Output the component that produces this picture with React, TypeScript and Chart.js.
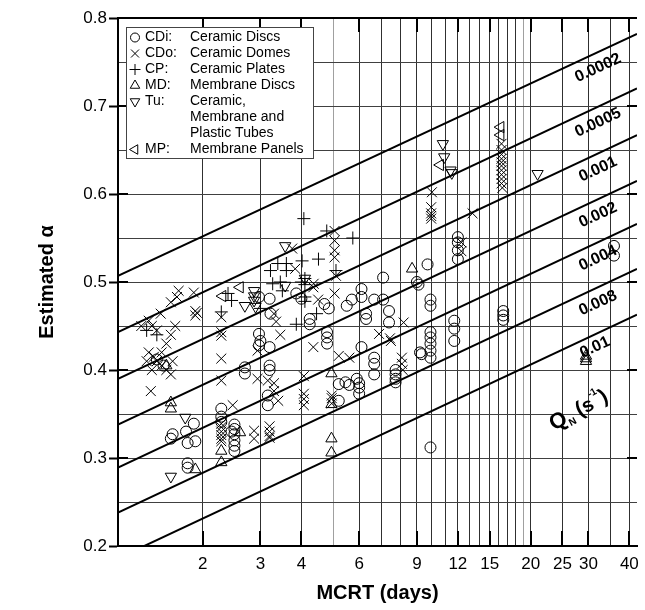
import React, { useEffect, useRef } from 'react';
import { Chart, registerables } from 'chart.js';

Chart.register(...registerables);

const FONT = "'Liberation Sans', Arial, Helvetica, sans-serif";

const X_MIN = 1.104;
const X_MAX = 42.2;
const Y_MIN = 0.2;
const Y_MAX = 0.8;

const X_GRID_VALUES = [2, 3, 4, 5, 6, 7, 8, 9, 10, 11, 12, 13, 14, 15, 16, 17, 18, 19, 20, 25, 30, 35, 40];
const X_LIGHT_GRID = [5, 19];
const X_TICK_LABELS = [2, 3, 4, 6, 9, 12, 15, 20, 25, 30, 40];
const Y_GRID_VALUES = [0.2, 0.25, 0.3, 0.35, 0.4, 0.45, 0.5, 0.55, 0.6, 0.65, 0.7, 0.75, 0.8];
const Y_TICK_LABELS = [0.2, 0.3, 0.4, 0.5, 0.6, 0.7, 0.8];

const QN_LABELS = ['0.0002', '0.0005', '0.001', '0.002', '0.004', '0.008', '0.01'];
const QN_ALPHA_AT_XMIN = [0.507, 0.443, 0.39, 0.338, 0.289, 0.238, 0.186];
const QN_ALPHA_AT_XMAX = [0.782, 0.72, 0.667, 0.615, 0.566, 0.515, 0.463];

// Ceramic Discs (circles)
const CDI: [number, number][] = [
  [1.45, 0.412], [1.52, 0.405], [1.6, 0.322], [1.62, 0.327], [1.8, 0.317], [1.9, 0.319], [1.88, 0.339], [1.78, 0.33], [1.8, 0.289], [1.8, 0.294],
  [2.28, 0.356], [2.28, 0.347], [2.28, 0.341],
  [2.5, 0.338], [2.5, 0.333], [2.5, 0.327], [2.5, 0.32], [2.5, 0.314], [2.5, 0.308], [2.45, 0.33],
  [2.69, 0.403], [2.69, 0.396],
  [2.97, 0.428], [2.97, 0.483], [2.97, 0.441], [3.0, 0.433],
  [3.2, 0.426], [3.2, 0.405], [3.16, 0.371], [3.16, 0.36], [3.2, 0.481], [3.22, 0.464], [3.2, 0.4],
  [3.86, 0.487], [4.0, 0.481],
  [4.24, 0.452], [4.24, 0.458],
  [4.7, 0.475], [4.85, 0.47], [4.79, 0.443], [4.79, 0.437], [4.79, 0.43],
  [5.2, 0.384], [5.2, 0.365], [5.6, 0.383], [5.5, 0.473], [5.7, 0.48], [5.45, 0.386],
  [6.1, 0.492], [6.1, 0.483], [6.3, 0.464], [6.3, 0.458], [6.1, 0.426], [5.9, 0.39], [6.0, 0.385], [6.0, 0.373], [6.0, 0.38],
  [6.67, 0.48], [6.67, 0.414], [6.67, 0.407], [6.67, 0.395],
  [7.1, 0.505], [7.1, 0.48], [7.4, 0.467], [7.4, 0.454],
  [7.75, 0.4], [7.75, 0.395], [7.75, 0.39], [7.75, 0.386],
  [9.0, 0.5], [9.1, 0.497], [9.7, 0.52], [9.2, 0.42], [9.3, 0.418],
  [9.9, 0.48], [9.9, 0.473], [9.9, 0.443], [9.9, 0.437], [9.9, 0.43], [9.9, 0.422], [9.9, 0.414], [9.9, 0.312],
  [12.0, 0.551], [12.0, 0.545], [12.0, 0.536], [12.0, 0.526], [11.7, 0.456], [11.7, 0.447], [11.7, 0.433],
  [16.5, 0.467], [16.5, 0.462], [16.5, 0.457],
  [35.9, 0.541], [35.9, 0.53],
];

// Ceramic Domes (x)
const CDO: [number, number][] = [
  [1.37, 0.456], [1.49, 0.464], [1.6, 0.477], [1.69, 0.49], [1.67, 0.483], [1.88, 0.488], [1.9, 0.467], [1.9, 0.462], [1.92, 0.465],
  [1.37, 0.42], [1.42, 0.415], [1.45, 0.41], [1.5, 0.405], [1.55, 0.4], [1.6, 0.395], [1.4, 0.4], [1.35, 0.41], [1.5, 0.42], [1.62, 0.41],
  [1.55, 0.43], [1.45, 0.445], [1.4, 0.45], [1.65, 0.45], [1.6, 0.44], [1.39, 0.376], [1.3, 0.45],
  [2.28, 0.413], [2.28, 0.388], [2.28, 0.46], [2.28, 0.443], [2.28, 0.439], [2.28, 0.339], [2.28, 0.335], [2.28, 0.33], [2.28, 0.326],
  [2.28, 0.322], [2.28, 0.319], [2.47, 0.36],
  [2.87, 0.331], [2.87, 0.322], [2.94, 0.422], [2.94, 0.39],
  [3.2, 0.336], [3.2, 0.33], [3.2, 0.325], [3.2, 0.323], [3.16, 0.388], [3.3, 0.385], [3.3, 0.376], [3.4, 0.365], [3.3, 0.464], [3.35, 0.455], [3.45, 0.44],
  [3.75, 0.538], [3.83, 0.515],
  [4.07, 0.393], [4.07, 0.373], [4.07, 0.367], [4.07, 0.36], [4.35, 0.426], [4.36, 0.498], [4.35, 0.494], [4.5, 0.48],
  [5.05, 0.558], [5.05, 0.547], [5.05, 0.536], [5.05, 0.528], [5.1, 0.507], [5.05, 0.487], [4.95, 0.371], [4.95, 0.362], [4.95, 0.368], [5.2, 0.416], [5.6, 0.414],
  [6.9, 0.441], [7.5, 0.433], [7.45, 0.436], [8.2, 0.454], [8.1, 0.414], [8.1, 0.407], [8.15, 0.4],
  [10.0, 0.602], [9.95, 0.585], [9.95, 0.578], [9.95, 0.575], [9.95, 0.572], [12.3, 0.545], [12.3, 0.535], [13.3, 0.578],
  [16.3, 0.657], [16.3, 0.65], [16.3, 0.645], [16.3, 0.64], [16.3, 0.636], [16.3, 0.632], [16.3, 0.627], [16.3, 0.622], [16.3, 0.617], [16.3, 0.612], [16.4, 0.607],
];

// Ceramic Plates (+)
const CP: [number, number][] = [
  [4.07, 0.572], [4.78, 0.558], [5.74, 0.55], [4.02, 0.524], [4.51, 0.526], [3.39, 0.521], [3.6, 0.521], [3.6, 0.513], [3.22, 0.513],
  [4.1, 0.504], [4.0, 0.5], [4.1, 0.497], [3.27, 0.498], [3.45, 0.5], [2.39, 0.487], [2.45, 0.479], [2.28, 0.466], [3.86, 0.452],
  [4.1, 0.483], [4.1, 0.478], [4.45, 0.464], [5.1, 0.513], [1.45, 0.44], [1.35, 0.445], [3.5, 0.49], [3.0, 0.47],
];

// Membrane Discs (triangle up)
const MD: [number, number][] = [
  [1.6, 0.363], [1.6, 0.356], [1.9, 0.287], [1.55, 0.405], [2.28, 0.308], [2.28, 0.295], [2.6, 0.329],
  [4.94, 0.396], [4.94, 0.361], [4.94, 0.322], [4.94, 0.306], [8.7, 0.515], [29.5, 0.41], [29.5, 0.413], [29.5, 0.416],
];

// Tubes (triangle down)
const TU: [number, number][] = [
  [1.77, 0.346], [1.6, 0.279], [2.69, 0.473], [2.87, 0.49], [2.87, 0.484], [2.87, 0.479], [2.9, 0.472], [3.57, 0.541], [3.57, 0.496],
  [4.1, 0.504], [10.8, 0.657], [10.9, 0.642], [11.4, 0.627], [11.5, 0.624], [21.0, 0.623],
];

// Membrane Panels (triangle left)
const MP: [number, number][] = [
  [2.6, 0.494], [2.3, 0.484], [10.6, 0.633], [16.2, 0.676], [16.2, 0.667],
];

const LEGEND_ROWS = [
  { sym: 'circle', abbr: 'CDi:', desc: ['Ceramic Discs'] },
  { sym: 'x', abbr: 'CDo:', desc: ['Ceramic Domes'] },
  { sym: 'plus', abbr: 'CP:', desc: ['Ceramic Plates'] },
  { sym: 'up', abbr: 'MD:', desc: ['Membrane Discs'] },
  { sym: 'down', abbr: 'Tu:', desc: ['Ceramic,', 'Membrane and', 'Plastic Tubes'] },
  { sym: 'left', abbr: 'MP:', desc: ['Membrane Panels'] },
];

const isMajorY = (v: number) => Math.abs(v * 10 - Math.round(v * 10)) < 1e-6;

function drawSymbol(ctx: CanvasRenderingContext2D, sym: string, cx: number, cy: number) {
  ctx.beginPath();
  if (sym === 'circle') {
    ctx.arc(cx, cy, 4.5, 0, Math.PI * 2);
  } else if (sym === 'x') {
    ctx.moveTo(cx - 4, cy - 4); ctx.lineTo(cx + 4, cy + 4);
    ctx.moveTo(cx + 4, cy - 4); ctx.lineTo(cx - 4, cy + 4);
  } else if (sym === 'plus') {
    ctx.moveTo(cx - 5.5, cy); ctx.lineTo(cx + 5.5, cy);
    ctx.moveTo(cx, cy - 5.5); ctx.lineTo(cx, cy + 5.5);
  } else {
    const rot = sym === 'up' ? 0 : sym === 'down' ? Math.PI : -Math.PI / 2;
    const r = 5.5;
    for (let k = 0; k < 3; k++) {
      const a = rot + (k * 2 * Math.PI) / 3;
      const px = cx + Math.sin(a) * r;
      const py = cy - Math.cos(a) * r;
      if (k === 0) ctx.moveTo(px, py); else ctx.lineTo(px, py);
    }
    ctx.closePath();
  }
  ctx.stroke();
}

const decorPlugin = {
  id: 'decor',
  afterDatasetsDraw(chart: any) {
    const { ctx, chartArea: a, scales } = chart;
    const xs = scales.x;
    const ys = scales.y;
    ctx.save();
    ctx.strokeStyle = '#000';
    ctx.lineWidth = 2;
    ctx.beginPath();
    ctx.moveTo(a.left - 1, a.top);
    ctx.lineTo(a.right, a.top);
    ctx.stroke();

    // inward tick marks
    ctx.beginPath();
    for (const v of X_TICK_LABELS) {
      const px = Math.round(xs.getPixelForValue(v));
      ctx.moveTo(px, a.bottom); ctx.lineTo(px, a.bottom - 15);
      ctx.moveTo(px, a.top); ctx.lineTo(px, a.top + 14);
    }
    for (const v of Y_TICK_LABELS) {
      const py = Math.round(ys.getPixelForValue(v));
      ctx.moveTo(a.left, py); ctx.lineTo(a.left + 10, py);
      ctx.moveTo(a.right - 10, py); ctx.lineTo(a.right, py);
    }
    ctx.stroke();

    // Q_N line labels
    ctx.fillStyle = '#000';
    ctx.font = `bold 16px ${FONT}`;
    ctx.textAlign = 'center';
    ctx.textBaseline = 'middle';
    QN_LABELS.forEach((lab, i) => {
      const x0 = xs.getPixelForValue(X_MIN);
      const x1 = xs.getPixelForValue(X_MAX);
      const y0 = ys.getPixelForValue(QN_ALPHA_AT_XMIN[i]);
      const y1 = ys.getPixelForValue(QN_ALPHA_AT_XMAX[i]);
      const ang = Math.atan2(y1 - y0, x1 - x0);
      const last = i === QN_LABELS.length - 1;
      const cx = last ? 595 : 598;
      const t = (cx - x0) / (x1 - x0);
      const cy = y0 + t * (y1 - y0) + (last ? 13 : 16);
      ctx.save();
      ctx.translate(cx, cy);
      ctx.rotate(ang);
      ctx.fillText(lab, 0, 0);
      ctx.restore();
    });

    // Q_N (s^-1) label
    ctx.save();
    ctx.translate(554, 431);
    ctx.rotate(-29 * Math.PI / 180);
    ctx.textAlign = 'left';
    ctx.textBaseline = 'alphabetic';
    let px = 0;
    const piece = (txt: string, size: number, dy: number, weight = 'bold') => {
      ctx.font = `${weight} ${size}px ${FONT}`;
      ctx.fillText(txt, px, dy);
      px += ctx.measureText(txt).width;
    };
    piece('Q', 22, 0);
    piece('N', 10, 4);
    px += 5;
    piece('(', 21, 0);
    piece('s', 20, 0);
    piece('-1', 10, -12);
    piece(')', 21, 0);
    ctx.restore();

    // legend
    const lx = 126.5, ly = 27.5, lw = 187, lh = 131;
    ctx.fillStyle = '#fff';
    ctx.fillRect(lx, ly, lw, lh);
    ctx.strokeStyle = '#444';
    ctx.lineWidth = 1;
    ctx.strokeRect(lx, ly, lw, lh);
    ctx.fillStyle = '#000';
    ctx.font = `14px ${FONT}`;
    ctx.textAlign = 'left';
    ctx.textBaseline = 'middle';
    let row = 0;
    for (const r of LEGEND_ROWS) {
      const cy = 37 + row * 16;
      ctx.strokeStyle = '#000';
      ctx.lineWidth = 1;
      drawSymbol(ctx, r.sym, 135, cy + 0.5);
      ctx.fillText(r.abbr, 145, cy);
      r.desc.forEach((d, k) => ctx.fillText(d, 190, cy + k * 16));
      row += r.desc.length;
    }
    ctx.restore();
  },
};

export default function App() {
  const ref = useRef<HTMLCanvasElement>(null);
  useEffect(() => {
    const canvas = ref.current;
    if (!canvas) return;
    const pts = (arr: [number, number][]) => arr.map(([x, y]) => ({ x, y }));
    const scatter = (label: string, arr: [number, number][], style: string, radius: number, rotation = 0, bw = 1) => ({
      type: 'scatter' as const,
      label,
      data: pts(arr),
      pointStyle: style,
      pointRadius: radius,
      pointRotation: rotation,
      pointBorderColor: '#000',
      pointBackgroundColor: 'rgba(0,0,0,0)',
      pointBorderWidth: bw,
      borderColor: '#000',
      backgroundColor: 'rgba(0,0,0,0)',
      order: 1,
    });
    const lines = QN_LABELS.map((lab, i) => ({
      type: 'line' as const,
      label: 'QN ' + lab,
      data: [
        { x: X_MIN, y: QN_ALPHA_AT_XMIN[i] },
        { x: X_MAX, y: QN_ALPHA_AT_XMAX[i] },
      ],
      borderColor: '#000',
      borderWidth: 2,
      pointRadius: 0,
      fill: false,
      order: 0,
    }));
    const chart = new Chart(canvas, {
      type: 'scatter',
      data: {
        datasets: [
          ...lines,
          scatter('CDi', CDI, 'circle', 5.5),
          scatter('CDo', CDO, 'crossRot', 7),
          scatter('CP', CP, 'cross', 6.5),
          scatter('MD', MD, 'triangle', 6.5),
          scatter('Tu', TU, 'triangle', 6.5, 180),
          scatter('MP', MP, 'triangle', 6.5, 270),
        ] as any,
      },
      options: {
        animation: false,
        responsive: false,
        devicePixelRatio: 1,
        events: [],
        layout: { padding: { top: 18, left: 0, right: 0, bottom: 0 } },
        plugins: { legend: { display: false }, tooltip: { enabled: false } },
        scales: {
          x: {
            type: 'logarithmic',
            min: X_MIN,
            max: X_MAX,
            bounds: 'data',
            afterBuildTicks: (s: any) => { s.ticks = X_GRID_VALUES.map((v) => ({ value: v })); },
            afterFit: (s: any) => { s.height = 64; s.paddingLeft = 0; s.paddingRight = 0; },
            grid: {
              color: (c: any) => (X_LIGHT_GRID.includes(c.tick?.value) ? '#a0a0a0' : '#303030'),
              lineWidth: 1,
              drawTicks: false,
            },
            border: { display: true, color: '#000', width: 2 },
            ticks: {
              autoSkip: false,
              maxRotation: 0,
              padding: 8,
              color: '#000',
              font: { family: FONT, size: 17 },
              callback: (v: any) => (X_TICK_LABELS.includes(Number(v)) ? String(v) : ''),
            },
            title: {
              display: true,
              text: 'MCRT (days)',
              color: '#000',
              font: { family: FONT, size: 20, weight: 'bold' },
              padding: { top: 0, bottom: 5 },
            },
          },
          y: {
            type: 'linear',
            min: Y_MIN,
            max: Y_MAX,
            bounds: 'data',
            afterBuildTicks: (s: any) => { s.ticks = Y_GRID_VALUES.map((v) => ({ value: v })); },
            afterFit: (s: any) => { s.width = 118; s.paddingTop = 0; s.paddingBottom = 0; },
            grid: {
              color: '#404040',
              lineWidth: 1,
              drawTicks: true,
              tickLength: 9,
              tickWidth: 2,
              tickColor: (c: any) => (isMajorY(c.tick?.value ?? 0) ? '#000' : 'rgba(0,0,0,0)'),
            },
            border: { display: true, color: '#000', width: 2 },
            ticks: {
              autoSkip: false,
              padding: 2,
              color: '#000',
              font: { family: FONT, size: 17 },
              callback: (v: any) => (isMajorY(Number(v)) ? Number(v).toFixed(1) : ''),
            },
            title: {
              display: true,
              text: 'Estimated α',
              color: '#000',
              font: { family: FONT, size: 20, weight: 'bold' },
              padding: { top: 35, bottom: 0 },
            },
          },
        },
      } as any,
      plugins: [decorPlugin],
    });
    return () => chart.destroy();
  }, []);
  return (
    <div style={{ position: 'absolute', left: 0, top: 0, width: 645, height: 610, overflow: 'hidden', background: '#fff' }}>
      <canvas ref={ref} width={645} height={610} style={{ width: 645, height: 610, display: 'block' }} />
    </div>
  );
}
